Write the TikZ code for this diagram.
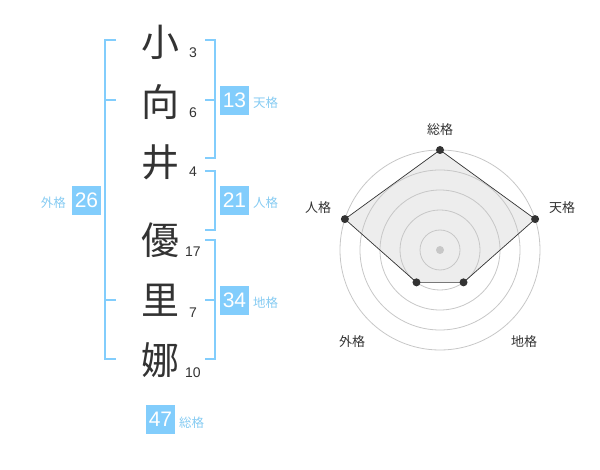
\documentclass[tikz,border=0pt]{standalone}
\usepackage{fontspec}
\setmainfont{Liberation Sans}
\newfontfamily\jp{Noto Sans CJK JP}
\definecolor{kakublue}{HTML}{82CDFC}
\definecolor{kakutext}{HTML}{86CBF2}
\definecolor{ink}{HTML}{333333}

\tikzset{
  kanji/.style={font=\jp\fontsize{38}{38}\selectfont,text=ink,inner sep=0pt},
  strokes/.style={font=\fontsize{14}{14}\selectfont,text=ink,inner sep=0pt},
  score/.style={fill=kakublue,text=white,font=\fontsize{21}{21}\selectfont,
    minimum size=29pt,inner sep=0pt},
  kaku/.style={font=\jp\fontsize{12.5}{12.5}\selectfont,text=kakutext,inner sep=0pt},
  bracket/.style={draw=kakublue,line width=2pt},
  ring/.style={draw=black!22,line width=0.8pt},
  axis/.style={font=\jp\fontsize{13}{13}\selectfont,text=ink,inner sep=0pt},
  dot/.style={circle,fill=ink,inner sep=0pt,minimum size=8pt}
}

\begin{document}
\begin{tikzpicture}[x=1pt,y=-1pt]
    \useasboundingbox (0,0) rectangle (600,470);
    % name characters and stroke counts
    \node[kanji] (K1) at (160,42) {小};
    \node[kanji] (K2) at (160,102) {向};
    \node[kanji] (K3) at (160,162) {井};
    \node[kanji] (K4) at (160,240) {優};
    \node[kanji] (K5) at (160,300) {里};
    \node[kanji] (K6) at (160,360) {娜};
    \node[strokes] (N1) at (193,53) {3};
    \node[strokes] (N2) at (193,113) {6};
    \node[strokes] (N3) at (193,172) {4};
    \node[strokes] (N4) at (193,252) {17};
    \node[strokes] (N5) at (193,313) {7};
    \node[strokes] (N6) at (193,373) {10};
    % brackets
    \draw[bracket] (116,40) -- (105,40) -- (105,359) -- (116,359);
    \draw[bracket] (105,100) -- (116,100);
    \draw[bracket] (105,300) -- (116,300);
    \draw[bracket] (205,40) -- (215,40) -- (215,158) -- (205,158);
    \draw[bracket] (205,100) -- (215,100);
    \draw[bracket] (205,171) -- (215,171) -- (215,230) -- (205,230);
    \draw[bracket] (205,240) -- (215,240) -- (215,359) -- (205,359);
    \draw[bracket] (205,300) -- (215,300);
    % scores
    \node[score] (TEN) at (234.5,100.5) {13};
    \node[score] (JIN) at (234.5,200.5) {21};
    \node[score] (CHI) at (234.5,300.5) {34};
    \node[score] (GAI) at (86.5,200.5) {26};
    \node[score] (SOU) at (160.5,419.5) {47};
    \node[kaku,anchor=west] (TENl) at (253,103) {天格};
    \node[kaku,anchor=west] (JINl) at (253,203) {人格};
    \node[kaku,anchor=west] (CHIl) at (253,303) {地格};
    \node[kaku,anchor=east] (GAIl) at (66,203) {外格};
    \node[kaku,anchor=west] (SOUl) at (179,423) {総格};
    % radar
    \begin{scope}[shift={(440,250)},y=1pt]
      \coordinate (S) at (90:100);
      \coordinate (T) at (18:100);
      \coordinate (C) at (-54:40);
      \coordinate (G) at (-126:40);
      \coordinate (J) at (162:100);
      \fill[black!7] (S) -- (T) -- (C) -- (G) -- (J) -- cycle;
      \draw[ring] (0,0) circle (20);
      \draw[ring] (0,0) circle (40);
      \draw[ring] (0,0) circle (60);
      \draw[ring] (0,0) circle (80);
      \draw[ring] (0,0) circle (100);
      \fill[black!22] (0,0) circle (4);
      \draw[ink,line width=0.7pt] (S) -- (T) -- (C) -- (G) -- (J) -- cycle;
      \node[dot] (Sd) at (S) {};
      \node[dot] (Td) at (T) {};
      \node[dot] (Cd) at (C) {};
      \node[dot] (Gd) at (G) {};
      \node[dot] (Jd) at (J) {};
      \node[axis] (Sl) at (0,120) {総格};
      \node[axis] (Tl) at (122,42) {天格};
      \node[axis] (Jl) at (-122,42) {人格};
      \node[axis] (Gl) at (-88,-92) {外格};
      \node[axis] (Cl) at (84,-92) {地格};
    \end{scope}
\end{tikzpicture}
\end{document}
